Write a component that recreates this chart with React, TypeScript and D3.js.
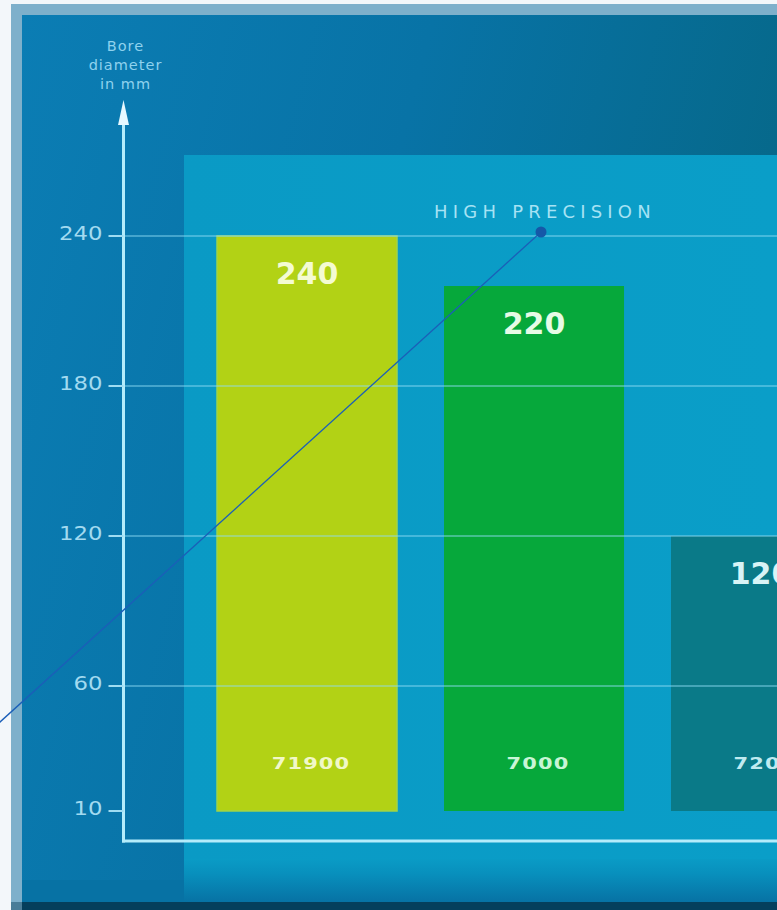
import React from "react";
import * as d3 from "d3";

const categories = ["71900", "7000", "7200"];
const values = [240, 220, 120];
const baseValue = 10;
const tickValues = [240, 180, 120, 60, 10];
const gridValues = [240, 180, 120, 60];
const barColors = ["#b2d215", "#06a83b", "#0a7a88"];
const valueLabelColors = ["#f4fbd2", "#e6fbe6", "#d8f4f6"];
const catLabelColors = ["#f1f8c8", "#c8f5d6", "#bfeaf0"];
const axisTitle = ["Bore", "diameter", "in mm"];
const groupTitle = "HIGH PRECISION";

const W = 777;
const H = 910;

export default function App() {
  const y = d3.scaleLinear().domain([0, 240]).range([836, 236]);
  const x = d3
    .scaleBand<string>()
    .domain(categories)
    .range([217, 217 + 227 * (3 - 0.207)])
    .paddingInner(0.207)
    .paddingOuter(0);
  const axisX = 123.5;
  const axisY = 841;
  const font = "'DejaVu Sans', Verdana, sans-serif";
  const dotX = 541;
  const dotY = y(240) - 4;
  const slope = (722 - dotY) / (0 - dotX);
  const endX = -20;
  const endY = dotY + slope * (endX - dotX);

  return (
    <svg
      width={W}
      height={H}
      style={{ position: "absolute", left: 0, top: 0, display: "block" }}
    >
      <defs>
        <linearGradient id="outer" x1="0" y1="0" x2="1" y2="0.3">
          <stop offset="0" stopColor="#0b7db4" />
          <stop offset="0.5" stopColor="#0873a6" />
          <stop offset="1" stopColor="#066889" />
        </linearGradient>
        <linearGradient id="bottom" x1="0" y1="0" x2="0" y2="1">
          <stop offset="0" stopColor="#0a9cc6" />
          <stop offset="0.35" stopColor="#0890bd" />
          <stop offset="1" stopColor="#0772a4" />
        </linearGradient>
        <linearGradient id="inner" x1="0" y1="0" x2="1" y2="0">
          <stop offset="0" stopColor="#0a9ac5" />
          <stop offset="1" stopColor="#0a9ec8" />
        </linearGradient>
      </defs>

      {/* photo frame */}
      <rect x={0} y={0} width={W} height={H} fill="#f3f7fa" />
      <rect x={11} y={4} width={W - 11} height={H - 4} fill="#7eb0cb" />
      <rect x={22} y={15} width={W - 22} height={H - 15} fill="url(#outer)" />
      <rect x={22} y={880} width={W - 22} height={22} fill="#0772a4" />
      <rect x={184} y={858} width={W - 184} height={44} fill="url(#bottom)" />
      <rect x={22} y={902} width={W - 22} height={8} fill="#053f5c" />
      <rect x={11} y={902} width={11} height={8} fill="#4a7d98" />

      {/* inner panel */}
      <rect x={184} y={155} width={W - 184} height={704} fill="url(#inner)" />

      {/* bars */}
      {categories.map((c, i) => (
        <rect
          key={c}
          x={x(c)}
          y={y(values[i])}
          width={x.bandwidth()}
          height={y(baseValue) - y(values[i])}
          fill={barColors[i]}
          stroke={i === 0 ? "#9fd44a" : "none"}
          strokeWidth={1.5}
        />
      ))}

      {/* gridlines */}
      {gridValues.map((v) => (
        <line
          key={v}
          x1={axisX}
          x2={W}
          y1={y(v)}
          y2={y(v)}
          stroke="#8fdcf4"
          strokeOpacity={0.45}
          strokeWidth={2}
        />
      ))}

      {/* value and category labels */}
      {categories.map((c, i) => (
        <g key={"l" + c}>
          <text
            x={(x(c) as number) + x.bandwidth() / 2}
            y={y(values[i]) + 48}
            textAnchor="middle"
            fontFamily={font}
            fontWeight="bold"
            fontSize={30}
            fill={valueLabelColors[i]}
          >
            {values[i]}
          </text>
          <text
            transform={`translate(${(x(c) as number) + x.bandwidth() / 2 + 4},${y(baseValue) - 42}) scale(1.4,1)`}
            textAnchor="middle"
            fontFamily={font}
            fontWeight="bold"
            fontSize={15}
            letterSpacing={0.8}
            fill={catLabelColors[i]}
          >
            {c}
          </text>
        </g>
      ))}

      {/* group title */}
      <text
        x={dotX + 4}
        y={218}
        textAnchor="middle"
        fontFamily={font}
        fontSize={18}
        letterSpacing={5.2}
        fill="#a6e2f4"
      >
        {groupTitle}
      </text>

      {/* axes */}
      <line x1={axisX} x2={axisX} y1={108} y2={axisY + 1.5} stroke="#b4ecfb" strokeWidth={3} />
      <line x1={axisX - 1.5} x2={W} y1={axisY} y2={axisY} stroke="#b4ecfb" strokeWidth={3} />
      <path
        d={d3.line()([
          [axisX, 100],
          [axisX + 5.5, 125],
          [axisX - 5.5, 125],
        ]) + "Z"}
        fill="#e6f8ff"
      />
      {tickValues.map((v) => (
        <g key={"t" + v}>
          <line
            x1={axisX - 15}
            x2={axisX}
            y1={y(v)}
            y2={y(v)}
            stroke="#9fdcf2"
            strokeWidth={2}
          />
          <text
            transform={`translate(${axisX - 21},${y(v) + 4}) scale(1.2,1)`}
            textAnchor="end"
            fontFamily={font}
            fontSize={19}
            fill="#a2daf0"
          >
            {v}
          </text>
        </g>
      ))}
      {axisTitle.map((t, i) => (
        <text
          key={t}
          x={axisX + 2}
          y={51 + i * 19}
          textAnchor="middle"
          fontFamily={font}
          fontSize={14.5}
          letterSpacing={1}
          fill="#8fd2ee"
        >
          {t}
        </text>
      ))}

      {/* annotation */}
      <line x1={dotX} y1={dotY} x2={endX} y2={endY} stroke="#1b5fb8" strokeWidth={1.3} />
      <circle cx={dotX} cy={dotY} r={5.5} fill="#1558a8" />
    </svg>
  );
}
